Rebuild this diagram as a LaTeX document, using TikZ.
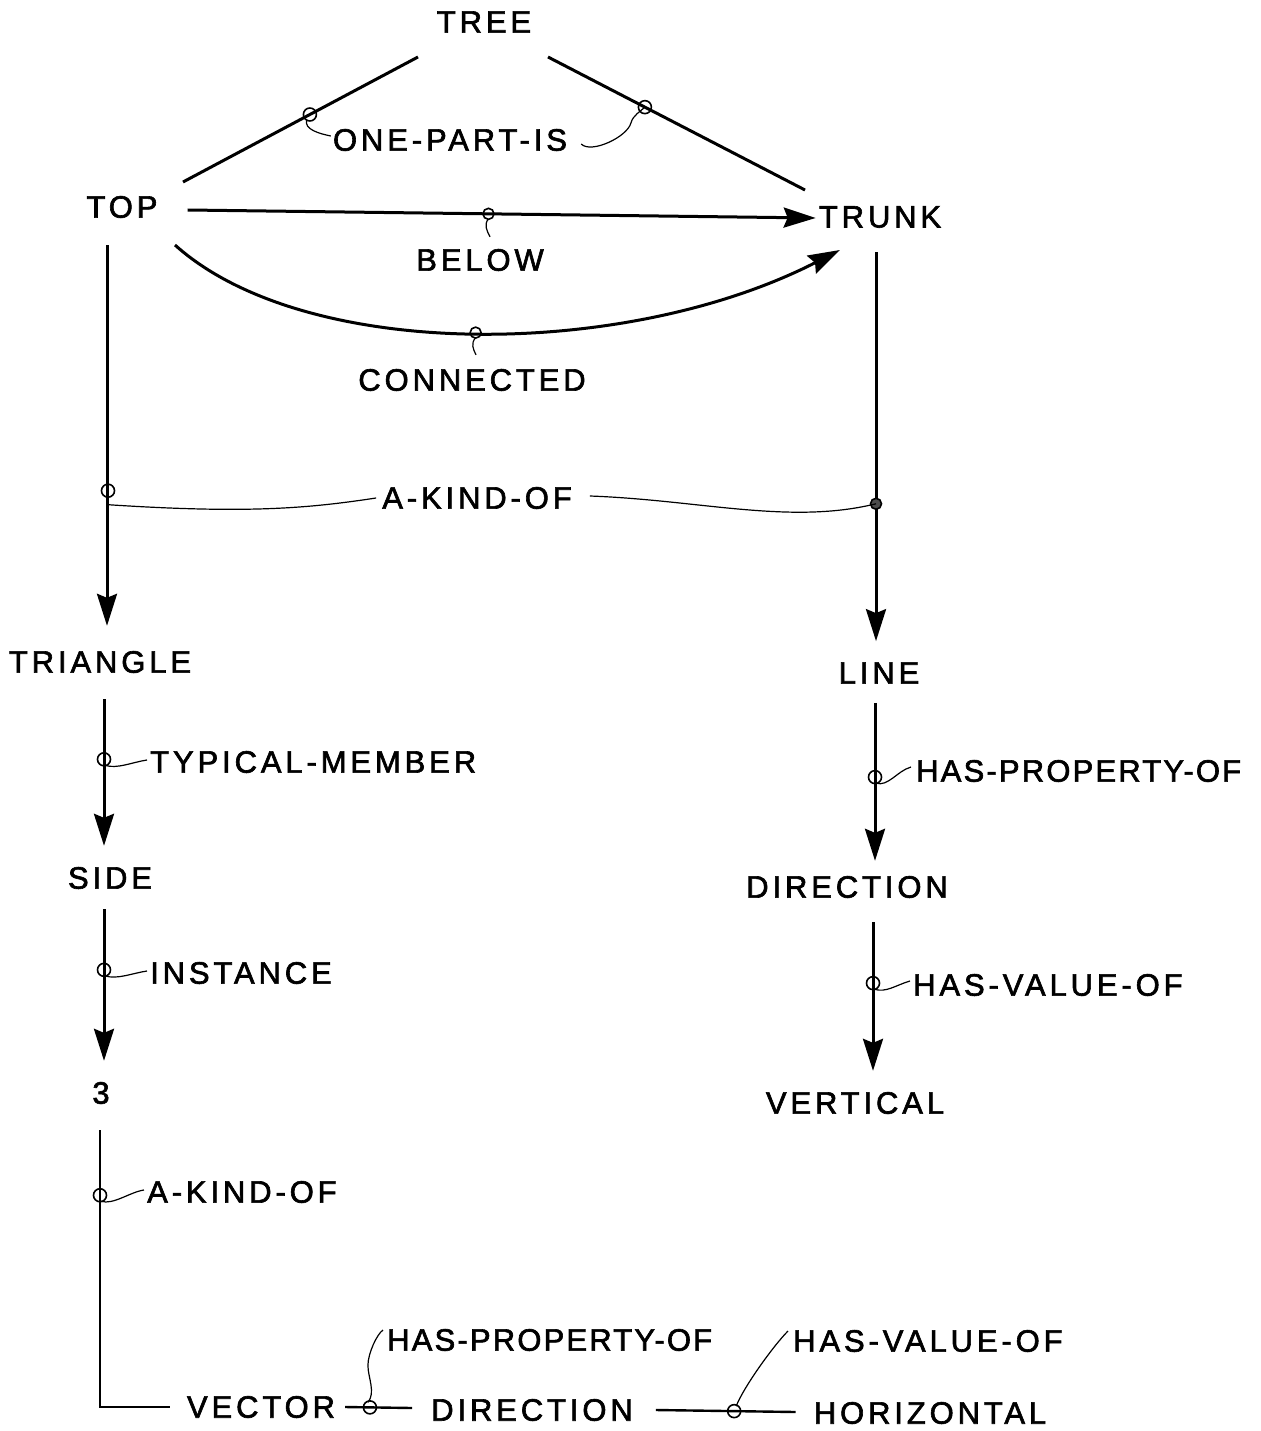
\documentclass[tikz,border=0pt]{standalone}
\usepackage{fontspec}
\setmainfont{Liberation Sans}[LetterSpace=12.5,FakeBold=2]
\usetikzlibrary{arrows.meta,calc}
\begin{document}
\begin{tikzpicture}[x=1pt,y=-1pt,
  concept/.style={font=\fontsize{31}{36}\selectfont, inner sep=0pt},
  rel/.style={font=\fontsize{31}{36}\selectfont, inner sep=0pt},
  tightrel/.style={font=\fontsize{31}{36}\selectfont\addfontfeature{LetterSpace=7}, inner sep=0pt},
  link/.style={line width=3pt},
  arc/.style={link,-{Stealth[length=32pt,width=20pt,inset=4pt]}},
  ring/.style={draw,circle,line width=1.6pt,minimum size=13pt,inner sep=0pt},
  hook/.style={line width=1.2pt},
]
\useasboundingbox (0,0) rectangle (1260,1431);

% concepts
\node[concept] (tree) at (484,22) {TREE};
\node[concept] (top) at (122,207) {TOP};
\node[concept] (trunk) at (880,217) {TRUNK};
\node[concept] (triangle) at (100,662) {TRIANGLE};
\node[concept] (line) at (879,673) {LINE};
\node[concept] (side) at (110,878) {SIDE};
\node[concept] (dirR) at (847,887) {DIRECTION};
\node[concept] (three) at (101,1093) {3};
\node[concept] (vertical) at (855,1103) {VERTICAL};
\node[concept] (vector) at (261,1407) {VECTOR};
\node[concept] (dirB) at (532,1410) {DIRECTION};
\node[concept] (horizontal) at (930,1413) {HORIZONTAL};

% relation labels
\node[rel] (onepart) at (450,140) {ONE-PART-IS};
\node[rel] (below) at (480,260) {BELOW};
\node[rel] (connected) at (472,380) {CONNECTED};
\node[rel] (akind) at (477,498) {A-KIND-OF};
\node[rel,anchor=west] (typical) at (150,762) {TYPICAL-MEMBER};
\node[rel,anchor=west] (instance) at (150,973) {INSTANCE};
\node[rel,anchor=west] (akindB) at (147,1192) {A-KIND-OF};
\node[tightrel,anchor=west] (haspropR) at (916,771) {HAS-PROPERTY-OF};
\node[rel,anchor=west] (hasvalR) at (913,985) {HAS-VALUE-OF};
\node[tightrel,anchor=west] (haspropB) at (387,1340) {HAS-PROPERTY-OF};
\node[rel,anchor=west] (hasvalB) at (793,1341) {HAS-VALUE-OF};

% part-of links
\draw[link] ($(tree)+(-66,35)$) -- coordinate[pos=0.46] (pL) ($(top)+(61,-25)$);
\draw[link] ($(tree)+(64,35)$) -- coordinate[pos=0.377] (pR) ($(trunk)+(-75,-27)$);
\node[ring] at (pL) {};
\node[ring] at (pR) {};
\draw[hook] ($(pL)+(-3,5)$) .. controls +(-4,10) and +(-10,-2) .. ($(onepart.west)+(-2,-4)$);
\draw[hook] ($(onepart.east)+(14,4)$) .. controls +(10,10) and +(-4,14) .. ($(pR)+(-14,16)$)
  .. controls +(2,-8) and +(-4,4) .. (pR);

% below
\draw[arc] ($(top.east)+(30,3)$) -- coordinate[pos=0.479] (pB) ($(trunk.west)+(-3,1)$);
\node[ring,minimum size=11pt] at (pB) {};
\draw[hook] ($(pB)+(0,5)$) .. controls +(-5,6) and +(-3,-6) .. ($(below.north)+(10,-12)$);

% connected
\draw[arc] ($(top)+(53,38)$) .. controls (305,362) and (625,360) .. node[pos=0.5,coordinate] (pC) {} ($(trunk)+(-40,33)$);
\node[ring,minimum size=11pt] at (pC) {};
\draw[hook] ($(pC)+(0,5)$) .. controls +(-5,6) and +(-3,-6) .. ($(connected.north)+(4,-14)$);

% a-kind-of across
\draw[arc] ($(top.south)+(-15,27)$) -- coordinate[pos=0.645] (kL) ($(triangle.north)+(7,-25)$);
\draw[arc] ($(trunk.south)+(-4,24)$) -- coordinate[pos=0.647] (kR) ($(line.north)+(-3,-21)$);
\node[ring] at ($(kL)+(1,0)$) {};
\node[ring,fill=black!70,minimum size=11pt] at (kR) {};
\draw[hook] ($(kL)+(1,14)$) .. controls (250,514) and (310,508) .. ($(akind.west)+(-6,0)$);
\draw[hook] ($(akind.east)+(18,-2)$) .. controls (700,500) and (790,525) .. (kR);

% triangle chain
\draw[arc] ($(triangle.south)+(4,26)$) -- coordinate[pos=0.41] (tM) ($(side.north)+(-6,-21)$);
\node[ring] at (tM) {};
\draw[hook] ($(tM)+(1,6)$) .. controls +(12,4) and +(-14,2) .. ($(typical.west)+(-3,-2)$);

\draw[arc] ($(side.south)+(-6,20)$) -- coordinate[pos=0.4] (iN) ($(three.north)+(3,-21)$);
\node[ring] at (iN) {};
\draw[hook] ($(iN)+(1,6)$) .. controls +(12,4) and +(-14,2) .. ($(instance.west)+(-3,-2)$);

\coordinate (corner) at ($(three |- vector)+(-1,0)$);
\draw[line width=2.4pt] ($(three.south)+(-1,26)$) -- coordinate[pos=0.235] (aK) (corner) -- ($(vector.west)+(-17,0)$);
\node[ring] at (aK) {};
\draw[hook] ($(aK)+(1,6)$) .. controls +(12,4) and +(-14,2) .. ($(akindB.west)+(-3,-2)$);

% line chain
\draw[arc] ($(line.south)+(-4,19)$) -- coordinate[pos=0.47] (hP) ($(dirR.north)+(28,-15)$);
\node[ring] at (hP) {};
\draw[hook] ($(hP)+(1,6)$) .. controls +(12,4) and +(-14,4) .. ($(haspropR.west)+(-5,-4)$);

\draw[arc] ($(dirR.south)+(26,24)$) -- coordinate[pos=0.41] (hV) ($(vertical.north)+(18,-21)$);
\node[ring] at (hV) {};
\draw[hook] ($(hV)+(1,6)$) .. controls +(12,4) and +(-14,4) .. ($(hasvalR.west)+(-3,-4)$);

% bottom row
\draw[link,line width=2.4pt] ($(vector.east)+(10,0)$) -- coordinate[pos=0.37] (bP) ($(dirB.west)+(-19,-2)$);
\node[ring] at (bP) {};
\draw[hook] ($(bP)+(-2,-5)$) .. controls +(8,-10) and +(0,12) .. ($(bP)+(-2,-42)$)
  .. controls +(0,-12) and +(-6,4) .. ($(haspropB.west)+(-4,-10)$);

\draw[link,line width=2.4pt] ($(dirB.east)+(23,0)$) -- coordinate[pos=0.56] (bV) ($(horizontal.west)+(-18,-1)$);
\node[ring] at (bV) {};
\draw[hook] ($(bV)+(2,-5)$) .. controls +(8,-20) and +(-14,14) .. ($(hasvalB.west)+(-5,-10)$);
\end{tikzpicture}
\end{document}
